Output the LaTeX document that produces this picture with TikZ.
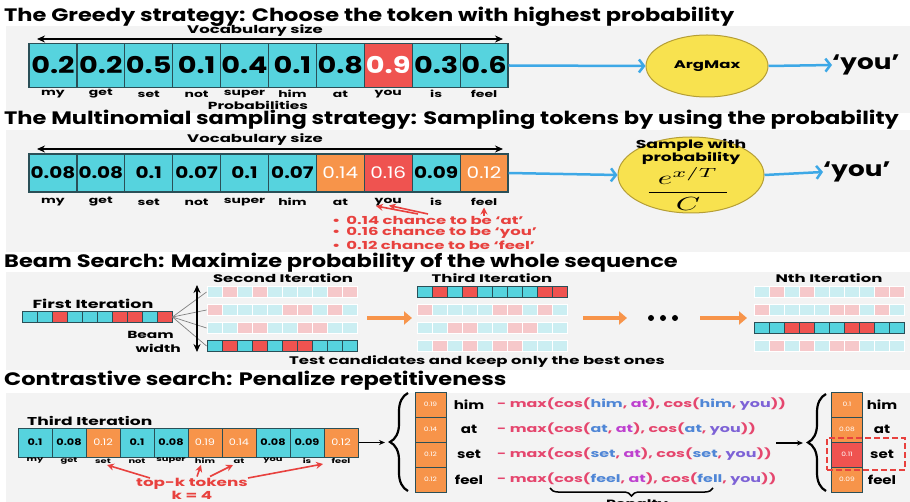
\documentclass[tikz,border=0pt]{standalone}
\usepackage{fontspec}
\usepackage{graphicx}
\setmainfont{Poppins}[FakeStretch=1.25]
\newfontfamily\wf{Poppins}[FakeStretch=1.5]
\usetikzlibrary{arrows.meta,shapes.geometric,decorations.pathreplacing}
\definecolor{cy}{HTML}{56D3DE}
\definecolor{rd}{HTML}{EF5350}
\definecolor{og}{HTML}{F7944A}
\definecolor{lcy}{HTML}{CBEEF2}
\definecolor{lrd}{HTML}{F6C8CA}
\definecolor{bd}{HTML}{2A4F57}
\definecolor{panel}{HTML}{F3F3F3}
\definecolor{ba}{HTML}{3DA8E6}
\definecolor{yl}{HTML}{F8E24F}
\definecolor{ylb}{HTML}{B59E35}
\definecolor{pk}{HTML}{E5466E}
\definecolor{bl}{HTML}{4F86D6}
\definecolor{mg}{HTML}{BE41CF}
\definecolor{pu}{HTML}{7D62D6}
\definecolor{tred}{HTML}{E8413E}
\newcommand\fsz[1]{\fontsize{#1}{#1}\selectfont}
\newcommand\wfs[1]{\wf\fontsize{#1}{#1}\selectfont\bfseries}
\newcommand\brow[4]{\foreach \p [count=\k from 0] in {#4} {\node[bcell,\p] (#1-\k) at ({#2+7.5+15*\k},#3) {};}}
\begin{document}
\begin{tikzpicture}[x=1pt,y=-1pt,
  title/.style={anchor=west,inner sep=0,font=\fsz{18}\bfseries},
  bigcell/.style={draw=bd,line width=1.2pt,inner sep=0,minimum width=47.9pt,minimum height=44pt,font=\fsz{23}\bfseries},
  midcell/.style={draw=bd,line width=1.2pt,inner sep=0,minimum width=47.9pt,minimum height=38pt},
  smallcell/.style={draw=bd,line width=1pt,inner sep=0,minimum width=34pt,minimum height=29pt},
  bk/.style={text=black,font=\fsz{16}\bfseries},
  wt/.style={text=white,font=\fsz{16}},
  bks/.style={text=black,font=\fsz{9}\bfseries},
  wts/.style={text=white,font=\fsz{9}},
  lab/.style={inner sep=0,font=\wfs{9.3}},
  tinylab/.style={inner sep=0,font=\wfs{6.6}},
  hdr/.style={inner sep=0,font=\wfs{11}},
  bcell/.style={inner sep=0,minimum width=15pt,minimum height=11.5pt},
  fc/.style={draw=bd,line width=0.9pt,fill=cy},
  fr/.style={draw=bd,line width=0.9pt,fill=rd},
  lc/.style={draw=white,line width=0.9pt,fill=lcy},
  lr/.style={draw=white,line width=0.9pt,fill=lrd},
  blarrow/.style={draw=ba,line width=2.5pt,-{Straight Barb[length=5pt,width=13pt]}},
  dblarrow/.style={draw=black,line width=1.5pt,{Stealth[length=8pt,width=7pt]}-{Stealth[length=8pt,width=7pt]}},
  oarrow/.style={draw=og,line width=4pt,-{Triangle[length=8pt,width=13pt]}},
  rarrow/.style={draw=tred,line width=1.6pt,-{Stealth[length=7pt,width=7pt]}},
  karrow/.style={draw=black,line width=1.2pt,-{Stealth[length=6pt,width=5pt]}},
  brc/.style={draw=black,line width=2.2pt,decorate,decoration={brace,amplitude=18pt}},
  fan/.style={draw=gray,line width=0.7pt},
  stk/.style={draw=bd,line width=0.9pt,fill=og,text=white,inner sep=0,minimum width=31pt,minimum height=25pt,font=\fsz{6}},
  side/.style={inner sep=0,font=\fsz{12}\bfseries},
  form/.style={anchor=west,inner sep=0,text=pk,font=\wfs{10.6}},
  bul/.style={anchor=west,inner sep=0,text=tred,font=\wfs{11}},
  ]
\useasboundingbox (0,0) rectangle (910,502);
\fill[white] (0,0) rectangle (910,502);
\fill[panel] (6,26) rectangle (910,113);
\fill[panel] (6,130) rectangle (910,252);
\fill[panel] (6,272) rectangle (910,370);
\fill[panel] (6,393) rectangle (910,502);

% ---------- Greedy ----------
\node[title] (t1) at (4,17) {The Greedy strategy: Choose the token with highest probability};
\node[hdr] (vs1) at (255,31) {Vocabulary size};
\coordinate (va1) at (37,39); \coordinate (vb1) at (503,39);
\draw[dblarrow] (va1) -- (vb1);
\foreach \va/\co/\sty [count=\i from 0] in {0.2/cy/black,0.2/cy/black,0.5/cy/black,0.1/cy/black,0.4/cy/black,0.1/cy/black,0.8/cy/black,0.9/rd/white,0.3/cy/black,0.6/cy/black}
  \node[bigcell,fill=\co,text=\sty] (g\i) at ({52.95+47.9*\i},65.5) {\va};
\foreach \w [count=\i from 0] in {my,get,set,not,super,him,at,you,is,feel}
  \node[lab] (gl\i) at ({52.95+47.9*\i},94) {\w};
\node[inner sep=0,font=\wfs{10.3}] (pr) at (258,105.5) {Probabilities};
\node[ellipse,draw=ylb,line width=1pt,fill=yl,minimum width=122pt,minimum height=62pt,inner sep=0,font=\wfs{11}] (am) at (707,66) {ArgMax};
\draw[blarrow] (g9.east) -- (am.west);
\node[inner sep=0,anchor=west,font=\fsz{21}\bfseries] (y1) at (832,65) {‘you’};
\draw[blarrow] (am.east) -- (y1.west);

% ---------- Multinomial ----------
\node[title] (t2) at (4,120) {The Multinomial sampling strategy: Sampling tokens by using the probability};
\node[hdr] (vs2) at (255,140) {Vocabulary size};
\coordinate (va2) at (37,149); \coordinate (vb2) at (503,149);
\draw[dblarrow] (va2) -- (vb2);
\foreach \va/\co/\sty [count=\i from 0] in {0.08/cy/bk,0.08/cy/bk,0.1/cy/bk,0.07/cy/bk,0.1/cy/bk,0.07/cy/bk,0.14/og/wt,0.16/rd/wt,0.09/cy/bk,0.12/og/wt}
  \node[midcell,fill=\co,\sty] (m\i) at ({52.95+47.9*\i},173) {\va};
\foreach \w [count=\i from 0] in {my,get,set,not,super,him,at,you,is,feel}
  \node[lab] (ml\i) at ({52.95+47.9*\i},202) {\w};
\coordinate (ra1) at (418,214); \coordinate (rb1) at (376,206);
\coordinate (ra2) at (428,214); \coordinate (rb2) at (389,205.5);
\coordinate (ra3) at (484,216); \coordinate (rb3) at (484,207.5);
\draw[rarrow] (ra1) -- (rb1);
\draw[rarrow] (ra2) -- (rb2);
\draw[rarrow] (ra3) -- (rb3);
\node[bul] (b1) at (332,220.5) {•\hspace{6pt}0.14 chance to be ‘at’};
\node[bul] (b2) at (332,233) {•\hspace{6pt}0.16 chance to be ‘you’};
\node[bul] (b3) at (332,245.5) {•\hspace{6pt}0.12 chance to be ‘feel’};
\node[ellipse,draw=ylb,line width=1pt,fill=yl,minimum width=146pt,minimum height=76pt,inner sep=0] (sp) at (691,175) {};
\node[inner sep=0,align=center,font=\wf\fontsize{11.5}{11.5}\selectfont\bfseries] (spt) at (691,152) {Sample with\\probability};
\node[inner sep=0] (frac) at (688,189) {\scalebox{3.1}[1.9]{$\displaystyle\frac{\hspace{3pt}e^{x/T}\hspace{3pt}}{C}$}};
\draw[blarrow] (m9.east) -- (sp.west);
\node[inner sep=0,anchor=west,font=\fsz{21}\bfseries] (y2) at (823,172) {‘you’};
\draw[blarrow] (sp.east) -- (y2.west);

% ---------- Beam ----------
\node[title] (t3) at (4,263) {Beam Search: Maximize probability of the whole sequence};
\node[hdr] (si) at (283,278) {Second Iteration};
\node[hdr] (tit) at (492,278) {Third Iteration};
\node[hdr] (nit) at (829,278) {Nth Iteration};
\node[inner sep=0,font=\wfs{11.7}] (fi) at (93,304) {First Iteration};
\brow{f}{22}{317}{fc,fc,fr,fc,fc,fc,fr,fr,fc,fr}
\brow{s1}{207}{292}{lc,lr,lc,lr,lc,lc,lc,lc,lr,lr}
\brow{s2}{207}{310}{lr,lc,lc,lc,lc,lr,lr,lc,lr,lc}
\brow{s3}{207}{328}{lc,lc,lr,lr,lc,lc,lr,lr,lc,lc}
\brow{s4}{207}{346}{fc,fr,fc,fr,fc,fr,fr,fc,fc,fc}
\brow{h1}{417}{292}{fc,fr,fc,fr,fc,fc,fc,fc,fr,fr}
\brow{h2}{417}{310}{lr,lc,lc,lc,lc,lr,lr,lc,lr,lc}
\brow{h3}{417}{328}{lc,lc,lr,lr,lc,lc,lr,lr,lc,lc}
\brow{h4}{417}{346}{lc,lr,lc,lr,lc,lr,lr,lc,lc,lc}
\brow{n1}{754}{292}{lc,lr,lc,lr,lc,lc,lc,lc,lr,lr}
\brow{n2}{754}{310}{lr,lc,lc,lc,lc,lr,lr,lc,lr,lc}
\brow{n3}{754}{328}{fc,fc,fr,fr,fc,fc,fr,fr,fc,fc}
\brow{n4}{754}{346}{lc,lr,lc,lr,lc,lr,lr,lc,lc,lc}
\foreach \r in {1,2,3,4} \draw[fan] (f-9.east) -- (s\r-0.west);
\coordinate (bw1) at (197,285); \coordinate (bw2) at (197,352);
\draw[dblarrow] (bw1) -- (bw2);
\node[anchor=east,inner sep=0,font=\wfs{10.3}] (bm) at (174,335) {Beam};
\node[anchor=east,inner sep=0,font=\wfs{10.3}] (wd) at (181,348) {width};
\coordinate (oa1) at (367,318); \coordinate (ob1) at (412,318);
\coordinate (oa2) at (583,318); \coordinate (ob2) at (627,318);
\coordinate (oa3) at (700,318); \coordinate (ob3) at (747,318);
\draw[oarrow] (oa1) -- (ob1);
\draw[oarrow] (oa2) -- (ob2);
\draw[oarrow] (oa3) -- (ob3);
\foreach \x [count=\i] in {651,663,675}
  \node[circle,fill=black,inner sep=0,minimum size=6pt] (dot\i) at (\x,318) {};
\node[hdr] (tc) at (477,362) {Test candidates and keep only the best ones};

% ---------- Contrastive ----------
\node[title] (t4) at (4,381) {Contrastive search: Penalize repetitiveness};
\node[anchor=west,inner sep=0,font=\wfs{11.4}] (ti) at (27,421) {Third Iteration};
\foreach \va/\co/\sty [count=\i from 0] in {0.1/cy/bks,0.08/cy/bks,0.12/og/wts,0.1/cy/bks,0.08/cy/bks,0.19/og/wts,0.14/og/wts,0.08/cy/bks,0.09/cy/bks,0.12/og/wts}
  \node[smallcell,fill=\co,\sty] (c\i) at ({35+34*\i},442.5) {\va};
\foreach \w [count=\i from 0] in {my,get,set,not,super,him,at,you,is,feel}
  \node[tinylab] (cl\i) at ({35+34*\i},461) {\w};
\node[inner sep=0,text=tred,font=\wfs{11.2}] (tk) at (192,483.5) {top-k tokens};
\node[inner sep=0,text=tred,font=\wfs{11.2}] (k4) at (192,495.5) {k = 4};
\coordinate (ta1) at (150,478); \coordinate (tb1) at (107,465);
\coordinate (ta2) at (197,476.5); \coordinate (tb2) at (201,465);
\coordinate (ta3) at (210,476.5); \coordinate (tb3) at (233,465);
\coordinate (ta4) at (248,478); \coordinate (tb4) at (323,464);
\foreach \i in {1,2,3,4} \draw[rarrow] (ta\i) -- (tb\i);
\coordinate (kt1) at (385,442.5);
\draw[karrow] (c9.east) -- (kt1);
\coordinate (br1a) at (408,491); \coordinate (br1b) at (408,393);
\draw[brc] (br1a) -- (br1b);
\foreach \va/\w [count=\i from 0] in {0.19/him,0.14/at,0.12/set,0.12/feel} {
  \node[stk] (s\i) at (430.5,{404.5+25*\i}) {\va};
  \node[side] (sl\i) at (469,{404.5+25*\i}) {\w};
}
\node[form] (f0) at (497,404.5) {- max(cos({\color{bl}him}, {\color{mg}at}), cos({\color{bl}him}, {\color{pu}you}))};
\node[form] (f1) at (497,429.5) {- max(cos({\color{bl}at}, {\color{mg}at}), cos({\color{bl}at}, {\color{pu}you}))};
\node[form] (f2) at (497,454.5) {- max(cos({\color{bl}set}, {\color{mg}at}), cos({\color{bl}set}, {\color{pu}you}))};
\node[form] (f3) at (497,479.5) {- max(cos({\color{bl}feel}, {\color{mg}at}), cos({\color{bl}fell}, {\color{pu}you}))};
\coordinate (pa) at (713,488); \coordinate (pb) at (550,488);
\draw[draw=black,line width=1.5pt,decorate,decoration={brace,amplitude=8pt}] (pa) -- (pb);
\node[inner sep=0,font=\wfs{10.5}] (pen) at (637,505) {Penalty};
\coordinate (ka2) at (776,443); \coordinate (kb2) at (803,443);
\draw[karrow] (ka2) -- (kb2);
\coordinate (br2a) at (826,491); \coordinate (br2b) at (826,394);
\draw[brc] (br2a) -- (br2b);
\foreach \va/\w/\co [count=\i from 0] in {0.1/him/og,0.08/at/og,0.11/set/rd,0.09/feel/og} {
  \node[stk,fill=\co] (r\i) at (847,{404.5+25*\i}) {\va};
  \node[side] (rl\i) at (882,{404.5+25*\i}) {\w};
}
\node[draw=tred,dash pattern=on 6pt off 3pt,line width=1.6pt,minimum width=78pt,minimum height=32pt,inner sep=0] (sel) at (866,454) {};
\end{tikzpicture}
\end{document}
